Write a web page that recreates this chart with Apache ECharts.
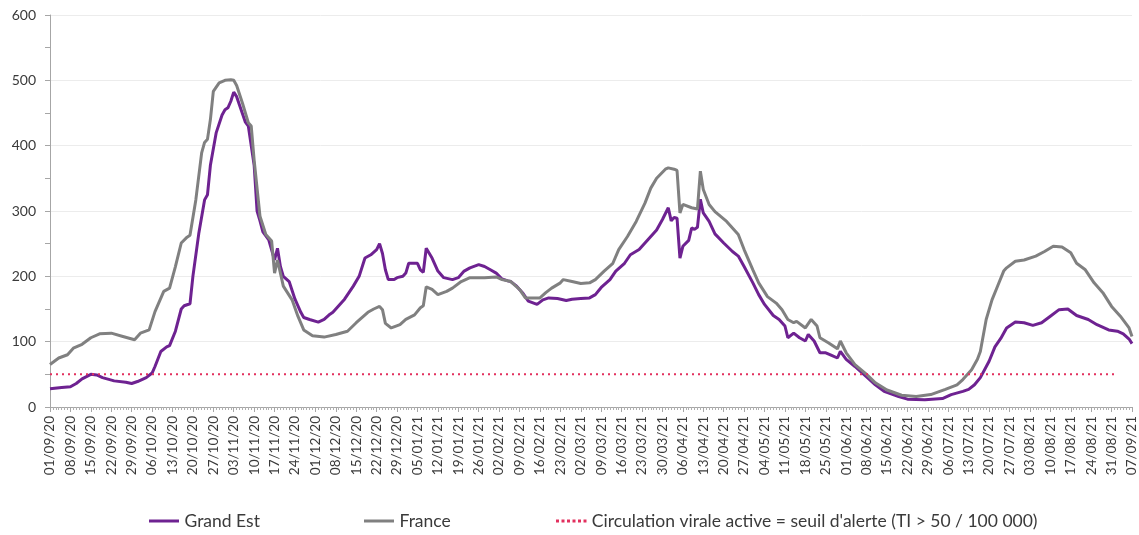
<!DOCTYPE html>
<html><head><meta charset="utf-8">
<script src="https://cdn.jsdelivr.net/npm/echarts@6/dist/echarts.min.js"></script>
<style>html,body{margin:0;padding:0;background:#fff}#c{width:1139px;height:535px}</style>
</head><body><div id="c"></div>
<script>
// Weekly tick labels (one every 7 days, day 0 = 01/09/20)
const tickLabels = ['01/09/20','08/09/20','15/09/20','22/09/20','29/09/20','06/10/20','13/10/20','20/10/20','27/10/20','03/11/20','10/11/20','17/11/20','24/11/20','01/12/20','08/12/20','15/12/20','22/12/20','29/12/20','05/01/21','12/01/21','19/01/21','26/01/21','02/02/21','09/02/21','16/02/21','23/02/21','02/03/21','09/03/21','16/03/21','23/03/21','30/03/21','06/04/21','13/04/21','20/04/21','27/04/21','04/05/21','11/05/21','18/05/21','25/05/21','01/06/21','08/06/21','15/06/21','22/06/21','29/06/21','06/07/21','13/07/21','20/07/21','27/07/21','03/08/21','10/08/21','17/08/21','24/08/21','31/08/21','07/09/21'];

// Grand Est: readings (day index, incidence rate)
const geDays = [0,4,7,9,11,14,16,18,22,26,28,30,33,35,36,38,40,41,43,45,46,48,49,51,53,54,55,57,59,60,61,62,63,64,65,67,68,70,71,72,73,75,77,78,79,80,82,84,86,87,89,92,94,96,97,99,101,104,106,108,110,112,113,114,115,116,118,119,121,122,123,126,127,128,129,131,133,135,138,140,142,144,147,149,151,153,155,157,158,160,162,164,167,169,171,174,177,179,182,185,187,189,192,194,197,199,202,205,208,210,212,213,214,215,216,217,219,220,221,222,223,224,226,228,231,234,236,238,241,243,245,248,250,252,253,255,257,259,260,262,264,266,268,270,271,273,276,280,283,286,291,294,300,306,309,313,315,317,319,322,324,326,328,331,334,337,340,343,346,349,352,356,359,363,366,368,370,371];
const geVals = [28,30,31,36,43,50,49,45,40,38,36,39,45,52,62,85,92,94,116,150,155,158,200,265,317,325,370,420,447,455,458,468,482,475,462,436,430,370,300,285,268,256,225,243,215,200,192,165,145,137,134,130,134,142,145,155,165,185,200,228,233,241,250,235,210,195,195,198,200,205,220,220,210,206,243,228,208,198,195,198,208,213,218,215,210,205,196,193,192,185,175,162,157,164,167,166,163,165,166,167,172,183,195,208,220,233,241,256,271,287,305,285,290,289,228,246,255,274,272,275,318,297,284,265,251,238,231,215,190,172,157,140,134,124,106,113,106,101,111,101,83,83,79,75,85,73,62,46,34,24,16,12,11,13,19,24,27,34,45,70,92,105,121,130,129,125,129,139,149,150,140,134,126,118,116,112,104,97];

// France: readings (day index, incidence rate)
const frDays = [0,3,6,8,11,14,17,21,25,29,31,34,36,39,41,43,45,47,48,50,52,53,54,55,56,58,60,62,63,64,66,68,69,70,72,74,76,77,78,80,83,85,87,90,94,98,102,105,109,111,113,114,115,117,120,122,125,127,128,129,131,133,136,138,141,144,149,153,155,158,161,163,165,168,170,172,175,176,179,182,185,187,190,193,195,198,201,204,206,208,211,212,214,215,216,217,220,222,223,224,226,228,232,236,238,241,243,246,249,251,253,255,256,259,261,263,264,267,270,271,273,276,280,283,287,292,297,302,307,311,313,316,318,319,321,323,325,327,328,331,334,338,341,344,347,350,352,355,358,361,364,367,370,371];
const frVals = [65,75,80,90,96,106,112,113,108,103,113,118,146,177,182,215,251,260,263,317,389,405,410,440,483,496,500,501,500,492,465,435,430,378,292,264,254,205,225,185,164,139,118,109,107,111,116,129,145,150,154,149,128,121,126,134,141,152,155,184,180,172,177,182,192,198,198,199,195,192,180,167,167,167,175,182,190,195,192,189,190,195,208,220,241,261,284,312,335,350,364,366,364,362,297,310,305,303,361,333,310,299,284,264,241,210,190,169,159,149,134,129,131,121,134,124,106,98,89,101,83,65,50,37,26,18,16,19,27,34,42,57,73,85,134,164,186,208,213,223,225,231,238,246,245,236,220,210,190,175,154,139,121,108];

// Alert threshold (TI > 50 / 100 000)
const threshDays = [0, 366];
const threshVals = [50, 50];

const zip = (d, v) => d.map((x, i) => [x, v[i]]);
const FONT = 'Lato, "Open Sans", sans-serif';
const TXT = '#3a3a3a';
const names = ['Grand Est', 'France', "Circulation virale active = seuil d'alerte (TI > 50 / 100 000)"];
const LINE_ICON = 'path://M0,0H30V3H0Z';
const DOT_ICON = 'path://M0,0h3v3h-3zM5.5,0h3v3h-3zM11,0h3v3h-3zM16.5,0h3v3h-3zM22,0h3v3h-3zM27.5,0h3v3h-3z';

const chart = echarts.init(document.getElementById('c'), null, {renderer: 'canvas'});
function mkLegend(left, name, icon) {
  return {
    show: true, orient: 'horizontal', left: left, top: 512,
    itemWidth: 31, itemHeight: 3, itemGap: 10, padding: 0,
    data: [{name: name, icon: icon}],
    textStyle: {fontFamily: FONT, fontSize: 17.5, color: TXT}
  };
}
chart.setOption({
  animation: false,
  backgroundColor: '#fff',
  textStyle: {fontFamily: FONT},
  grid: {left: 50, right: 3, top: 15, bottom: 128, containLabel: false},
  legend: [mkLegend(149, names[0], LINE_ICON), mkLegend(364, names[1], LINE_ICON), mkLegend(556, names[2], DOT_ICON)],
  xAxis: {
    type: 'value', min: 0, max: 371, interval: 7,
    axisLine: {show: true, onZero: false, lineStyle: {color: '#a6a6a6', width: 1}},
    axisTick: {show: true, length: 5, lineStyle: {color: '#a6a6a6'}},
    minorTick: {show: true, splitNumber: 7, length: 3, lineStyle: {color: '#b0b0b0'}},
    splitLine: {show: false},
    axisLabel: {
      rotate: 90, margin: 9, fontFamily: FONT, fontSize: 13.5, color: TXT,
      showMinLabel: true, showMaxLabel: true, hideOverlap: false,
      formatter: v => tickLabels[Math.round(v / 7)] || ''
    }
  },
  yAxis: {
    type: 'value', min: 0, max: 600, interval: 100,
    axisLine: {show: true, lineStyle: {color: '#a6a6a6'}},
    axisTick: {show: true, length: 5, lineStyle: {color: '#a6a6a6'}},
    minorTick: {show: true, splitNumber: 2, length: 5, lineStyle: {color: '#a6a6a6'}},
    splitLine: {show: true, lineStyle: {color: '#ececec', width: 1}},
    axisLabel: {margin: 14, fontFamily: FONT, fontSize: 14, color: TXT}
  },
  series: [
    {name: names[0], type: 'line', data: zip(geDays, geVals), symbol: 'none', showSymbol: false,
     lineStyle: {color: '#6E2291', width: 3}, itemStyle: {color: '#6E2291'}, z: 2},
    {name: names[1], type: 'line', data: zip(frDays, frVals), symbol: 'none', showSymbol: false,
     lineStyle: {color: '#808080', width: 3}, itemStyle: {color: '#808080'}, z: 3},
    {name: names[2], type: 'line', data: zip(threshDays, threshVals), symbol: 'none', showSymbol: false,
     lineStyle: {color: '#E2305E', width: 2, type: [2, 4]}, itemStyle: {color: '#E2305E'}, z: 4}
  ]
});
</script></body></html>
